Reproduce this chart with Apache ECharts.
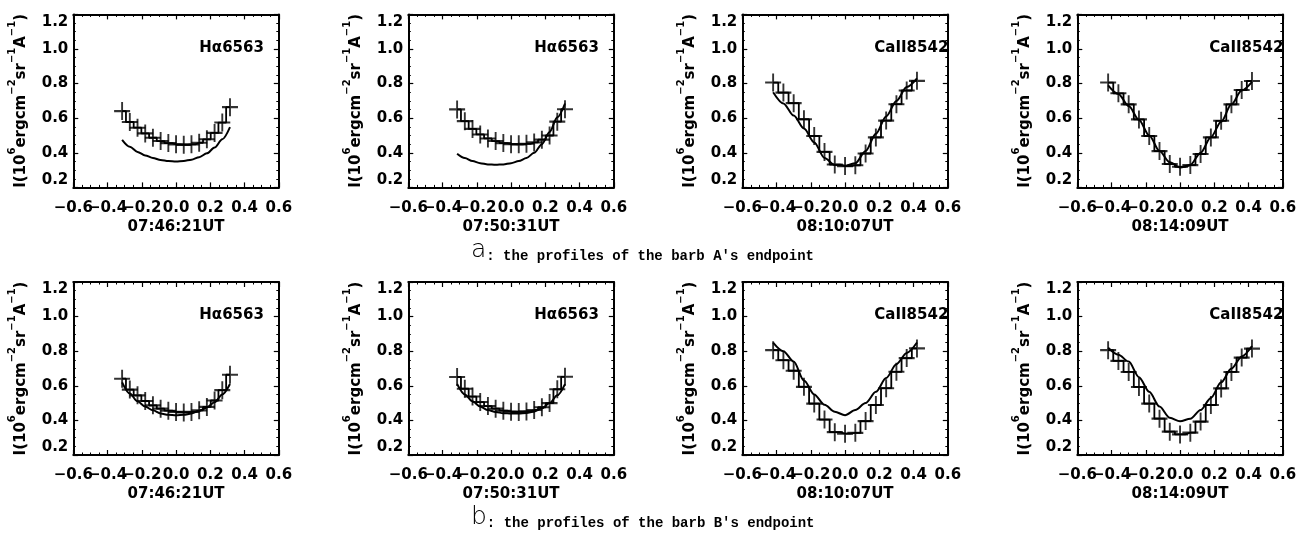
<!DOCTYPE html>
<html>
<head>
    <meta charset="utf-8">
    <script src="https://cdn.jsdelivr.net/npm/echarts@6.0.0/dist/echarts.min.js"></script>
    <style>
        html, body { margin: 0; padding: 0; background: #fff; }
        #main { width: 1316px; height: 534px; }
    </style>
</head>
<body>
    <div id="main"></div>
    <script>
        // wavelength offsets of the sampled points
        var haX = [-0.315, -0.27, -0.225, -0.18, -0.135, -0.09, -0.045, 0, 0.045, 0.09, 0.135, 0.18, 0.225, 0.27, 0.315];
        var caX = [-0.42, -0.36, -0.30, -0.24, -0.18, -0.12, -0.06, 0, 0.06, 0.12, 0.18, 0.24, 0.30, 0.36, 0.42];

        // x tick labels, split in two alternating sets so none get dropped
        var xTicksOdd = [-0.6, -0.2, 0.2, 0.6];
        var xTicksEven = [-0.4, 0, 0.4];

        // observed profiles (crosses + histogram)
        var obs0746 = [0.641, 0.578, 0.545, 0.512, 0.487, 0.468, 0.456, 0.449, 0.446, 0.449, 0.458, 0.478, 0.515, 0.575, 0.664];
        var obs0750 = [0.651, 0.583, 0.538, 0.506, 0.483, 0.468, 0.456, 0.450, 0.449, 0.452, 0.460, 0.476, 0.500, 0.580, 0.652];
        var obs0810 = [0.806, 0.748, 0.687, 0.594, 0.497, 0.405, 0.332, 0.323, 0.328, 0.396, 0.489, 0.586, 0.681, 0.760, 0.816];
        var obs0814 = [0.806, 0.744, 0.680, 0.593, 0.497, 0.410, 0.335, 0.319, 0.329, 0.393, 0.489, 0.585, 0.680, 0.763, 0.815];

        // computed profiles, barb A endpoint
        var fitA0746 = [0.475, 0.435, 0.405, 0.385, 0.370, 0.358, 0.352, 0.350, 0.353, 0.360, 0.375, 0.397, 0.430, 0.478, 0.548];
        var fitA0750 = [0.395, 0.370, 0.352, 0.340, 0.333, 0.331, 0.333, 0.340, 0.352, 0.370, 0.400, 0.450, 0.520, 0.605, 0.685];
        var fitA0810 = [0.750, 0.685, 0.615, 0.540, 0.460, 0.370, 0.330, 0.325, 0.340, 0.410, 0.510, 0.610, 0.700, 0.780, 0.830];
        var fitA0814 = [0.790, 0.740, 0.670, 0.590, 0.500, 0.410, 0.345, 0.315, 0.330, 0.400, 0.490, 0.580, 0.680, 0.760, 0.810];

        // computed profiles, barb B endpoint
        var fitB0746 = [0.620, 0.555, 0.510, 0.480, 0.458, 0.440, 0.432, 0.430, 0.432, 0.440, 0.455, 0.475, 0.505, 0.550, 0.610];
        var fitB0750 = [0.610, 0.550, 0.510, 0.480, 0.460, 0.448, 0.442, 0.440, 0.440, 0.443, 0.452, 0.470, 0.500, 0.545, 0.610];
        var fitB0810 = [0.850, 0.800, 0.740, 0.630, 0.550, 0.490, 0.450, 0.430, 0.460, 0.500, 0.565, 0.645, 0.725, 0.790, 0.850];
        var fitB0814 = [0.820, 0.780, 0.740, 0.650, 0.565, 0.480, 0.415, 0.395, 0.410, 0.460, 0.530, 0.620, 0.700, 0.770, 0.830];

        var times = ['07:46:21UT', '07:50:31UT', '08:10:07UT', '08:14:09UT'];
        var lineNames = ['H\u03b16563', 'H\u03b16563', 'CaII8542', 'CaII8542'];
        var captions = ['the profiles of the barb A\'s endpoint', 'the profiles of the barb B\'s endpoint'];

        var panels = [
            { x: haX, obs: obs0746, fit: fitA0746 },
            { x: haX, obs: obs0750, fit: fitA0750 },
            { x: caX, obs: obs0810, fit: fitA0810 },
            { x: caX, obs: obs0814, fit: fitA0814 },
            { x: haX, obs: obs0746, fit: fitB0746 },
            { x: haX, obs: obs0750, fit: fitB0750 },
            { x: caX, obs: obs0810, fit: fitB0810 },
            { x: caX, obs: obs0814, fit: fitB0814 }
        ];

        var colLeft = [73.3, 408.3, 742.3, 1077.3];
        var rowTop = [14.4, 282];
        var boxW = 205.5, boxH = 173;
        var tagLeft = [121, 121, 127, 127];

        var font = 'DejaVu Sans';
        var fs = 15;
        var crossPath = 'path://M0,8L16,8M8,0L8,16';

        function pairs(xs, ys) {
            return xs.map(function (v, k) { return [v, ys[k]]; });
        }

        function fmtX(v) {
            if (Math.abs(v) < 1e-9) return '0.0';
            return v.toFixed(1).replace('-', '\u2212');
        }

        var yName = '{n|I(10}{s|6}{n|ergcm}{s|\u22122}{n|sr}{s|\u22121}{n|A}{s|\u22121}{n|)}';

        var grids = [], xAxes = [], yAxes = [], series = [], titles = [];

        function frameAxis(kind, i, pos) {
            var ax = {
                type: 'value',
                gridIndex: i,
                position: pos,
                axisLine: { show: true, onZero: false, lineStyle: { color: '#000', width: 2 } },
                axisTick: { show: true, inside: true, length: 5, lineStyle: { color: '#000', width: 1.2 } },
                minorTick: { show: true, splitNumber: 4, length: 2.5, lineStyle: { color: '#000', width: 1 } },
                splitLine: { show: false },
                axisLabel: { show: false }
            };
            if (kind === 'x') {
                ax.min = -0.6; ax.max = 0.6; ax.interval = 0.2;
            } else {
                ax.min = 0.2; ax.max = 1.2; ax.interval = 0.2;
            }
            return ax;
        }

        function xLabels(values) {
            return {
                show: true, margin: 13, color: '#000', fontFamily: font, fontWeight: 'bold', fontSize: fs,
                customValues: values, formatter: fmtX
            };
        }

        panels.forEach(function (p, i) {
            var left = colLeft[i % 4], top = rowTop[Math.floor(i / 4)];
            grids.push({ left: left, top: top, width: boxW, height: boxH });

            var xb = frameAxis('x', i, 'bottom');
            xb.axisLabel = xLabels(xTicksOdd);
            xb.name = times[i % 4];
            xb.nameLocation = 'middle';
            xb.nameGap = 32;
            xb.nameTextStyle = { color: '#000', fontFamily: font, fontWeight: 'bold', fontSize: fs };

            var xb2 = frameAxis('x', i, 'bottom');
            xb2.axisLine = { show: false, onZero: false };
            xb2.axisTick = { show: false };
            xb2.minorTick = { show: false };
            xb2.axisLabel = xLabels(xTicksEven);

            xAxes.push(xb, frameAxis('x', i, 'top'), xb2);

            var yl = frameAxis('y', i, 'left');
            yl.axisLabel = {
                show: true, margin: 5, color: '#000', fontFamily: font, fontWeight: 'bold', fontSize: fs,
                showMinLabel: true, showMaxLabel: true,
                verticalAlignMaxLabel: 'top', verticalAlignMinLabel: 'bottom',
                formatter: function (v) { return v.toFixed(1); }
            };
            yl.name = yName;
            yl.nameLocation = 'middle';
            yl.nameRotate = 90;
            yl.nameGap = 45;
            yl.nameTextStyle = {
                color: '#000',
                rich: {
                    n: { fontFamily: font, fontWeight: 'bold', fontSize: 15, lineHeight: 21, verticalAlign: 'bottom' },
                    s: { fontFamily: font, fontWeight: 'bold', fontSize: 10, lineHeight: 21, verticalAlign: 'top' }
                }
            };
            yAxes.push(yl, frameAxis('y', i, 'right'));

            var xi = 3 * i, yi = 2 * i;
            // observed profile drawn as histogram
            series.push({
                type: 'line', xAxisIndex: xi, yAxisIndex: yi,
                data: pairs(p.x, p.obs), step: 'middle', showSymbol: false,
                lineStyle: { color: '#000', width: 1.8 }
            });
            // observed points as plus signs
            series.push({
                type: 'scatter', xAxisIndex: xi, yAxisIndex: yi,
                data: pairs(p.x, p.obs), symbol: crossPath, symbolSize: [16, 18],
                itemStyle: { color: '#000', borderColor: '#000', borderWidth: 2 }
            });
            // computed profile
            series.push({
                type: 'line', xAxisIndex: xi, yAxisIndex: yi,
                data: pairs(p.x, p.fit), smooth: 0.3, smoothMonotone: 'x', showSymbol: false,
                lineStyle: { color: '#000', width: 2 }
            });

            titles.push({
                text: lineNames[i % 4],
                left: left + tagLeft[i % 4], top: top + 21,
                textStyle: { color: '#000', fontFamily: font, fontWeight: 'bold', fontSize: fs }
            });
        });

        captions.forEach(function (c, r) {
            var letter = r === 0 ? 'a' : 'b';
            titles.push({
                text: '{big|' + letter + '}{sm|: ' + c + '}',
                left: 466, top: r === 0 ? 228 : 495,
                textStyle: {
                    rich: {
                        big: { fontFamily: font, fontWeight: 'lighter', fontSize: 25, color: '#000', lineHeight: 30, verticalAlign: 'bottom' },
                        sm: { fontFamily: 'Liberation Mono', fontWeight: 'bold', fontSize: 14, color: '#000', lineHeight: 30, verticalAlign: 'bottom' }
                    }
                }
            });
        });

        var chart = echarts.init(document.getElementById('main'), null, { renderer: 'canvas' });
        chart.setOption({
            animation: false,
            backgroundColor: '#fff',
            title: titles,
            grid: grids,
            xAxis: xAxes,
            yAxis: yAxes,
            series: series
        });
    </script>
</body>
</html>
